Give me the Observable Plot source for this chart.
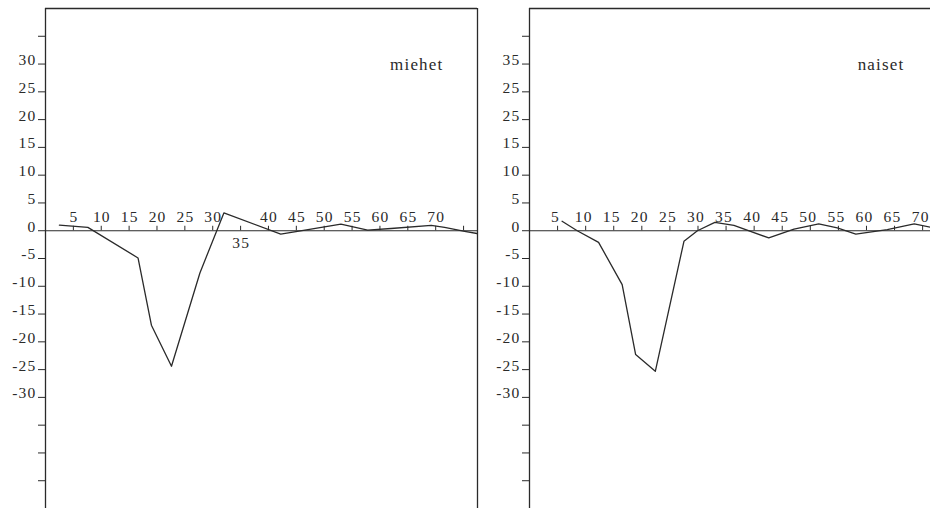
<!DOCTYPE html>
<html><head><meta charset="utf-8">
<script src="https://cdn.jsdelivr.net/npm/d3@7"></script>
<script src="https://cdn.jsdelivr.net/npm/@observablehq/plot@0.6"></script>
<style>
body{margin:0;background:#fff;overflow:hidden}
#wrap{display:flex;width:930px;height:508px}
svg{display:block}
</style></head><body><div id="wrap"></div>
<script>
// Data
const panelTitles = ["miehet", "naiset"];
const menAge   = [2.5, 7.6, 16.6, 19.0, 22.6, 27.7, 32.0, 42.2, 45.2, 53.0, 57.8, 62.0, 69.2, 71.6, 75.2, 78.5];
const menValue = [1.0, 0.6, -4.9, -17.0, -24.4, -7.6, 3.2, -0.6, -0.1, 1.2, 0.1, 0.4, 0.95, 0.6, -0.1, -0.7];
const womenAge   = [5.8, 8.5, 12.3, 16.5, 18.9, 22.4, 27.5, 29.9, 33.0, 36.4, 42.6, 47.1, 51.5, 54.8, 58.1, 63.7, 68.5, 72.0];
const womenValue = [1.7, 0.0, -2.1, -9.7, -22.3, -25.3, -1.9, 0.0, 1.5, 0.95, -1.3, 0.3, 1.25, 0.5, -0.6, 0.2, 1.25, 0.5];
const xTicks = [5, 10, 15, 20, 25, 30, 35, 40, 45, 50, 55, 60, 65, 70, 75];
const xTickLabels = ["5","10","15","20","25","30","35","40","45","50","55","60","65","70",""];
const yTicks = [35, 30, 25, 20, 15, 10, 5, 0, -5, -10, -15, -20, -25, -30, -35, -40, -45];
const yTickLabelsMen   = ["", "30","25","20","15","10","5","0","-5","-10","-15","-20","-25","-30","","",""];
const yTickLabelsWomen = ["", "35","25","25","15","10","5","0","-5","-10","-15","-20","-25","-30","","",""];
const menLabelsBelow = [35];

const ink = "#2a2a2a";
const font = "'Liberation Serif', 'DejaVu Serif', serif";

function panel({age, value, yLabels, title, width, marginLeft, marginRight, xMax, rightEdge, below, titleDx, labelDx}) {
  const data = age.map((a, i) => ({age: a, value: value[i]}));
  const ticks = xTicks.map((t, i) => ({t, label: xTickLabels[i]}));
  const yl = new Map(yTicks.map((t, i) => [t, yLabels[i]]));
  const marks = [
    Plot.ruleY([40], {stroke: ink, strokeWidth: 1.3}),
    Plot.ruleX([0], {y1: -50, y2: 40, stroke: ink, strokeWidth: 1.3}),
    Plot.ruleY([0], {stroke: ink, strokeWidth: 1.1}),
    Plot.ruleX(ticks, {x: "t", y1: 0, y2: 0.8, stroke: ink, strokeWidth: 1}),
    Plot.text(ticks.filter(d => !below.includes(d.t)), {x: "t", y: 0, dy: -14, dx: labelDx, text: "label", fill: ink, fontSize: 15.5, fontFamily: font}),
    Plot.text(ticks.filter(d => below.includes(d.t)), {x: "t", y: 0, dy: 12, dx: labelDx, text: "label", fill: ink, fontSize: 15.5, fontFamily: font}),
    Plot.axisY(yTicks, {label: null, tickFormat: () => "", tickSize: 7, stroke: ink}),
    Plot.text(yTicks, {x: 0, y: d => d, text: d => yl.get(d), textAnchor: "end", dx: -9, dy: -4, fill: ink, fontSize: 15.5, fontFamily: font}),
    Plot.line(data, {x: "age", y: "value", stroke: ink, strokeWidth: 1.3, clip: true}),
    Plot.text([title], {frameAnchor: "top-right", dx: titleDx, dy: 49, text: d => d, textAnchor: "end", fill: ink, fontSize: 17, fontFamily: font})
  ];
  if (rightEdge) marks.push(Plot.ruleX([xMax], {y1: -50, y2: 40, stroke: ink, strokeWidth: 1.3}));
  return Plot.plot({
    width, height: 508,
    marginLeft, marginRight, marginTop: 8, marginBottom: 0,
    x: {domain: [0, xMax], axis: null},
    y: {domain: [-50, 40], axis: null},
    style: {background: "#fff", fontFamily: font, letterSpacing: "1.2px"},
    marks
  });
}

const wrap = document.getElementById("wrap");
wrap.appendChild(panel({age: menAge, value: menValue, yLabels: yTickLabelsMen, title: panelTitles[0],
  width: 480, marginLeft: 45, marginRight: 3, xMax: 77.5, rightEdge: true, below: menLabelsBelow, titleDx: -34, labelDx: 0.6}));
wrap.appendChild(panel({age: womenAge, value: womenValue, yLabels: yTickLabelsWomen, title: panelTitles[1],
  width: 450, marginLeft: 49, marginRight: 0, xMax: 71.4, rightEdge: false, below: [], titleDx: -26, labelDx: -2}));
</script></body></html>
